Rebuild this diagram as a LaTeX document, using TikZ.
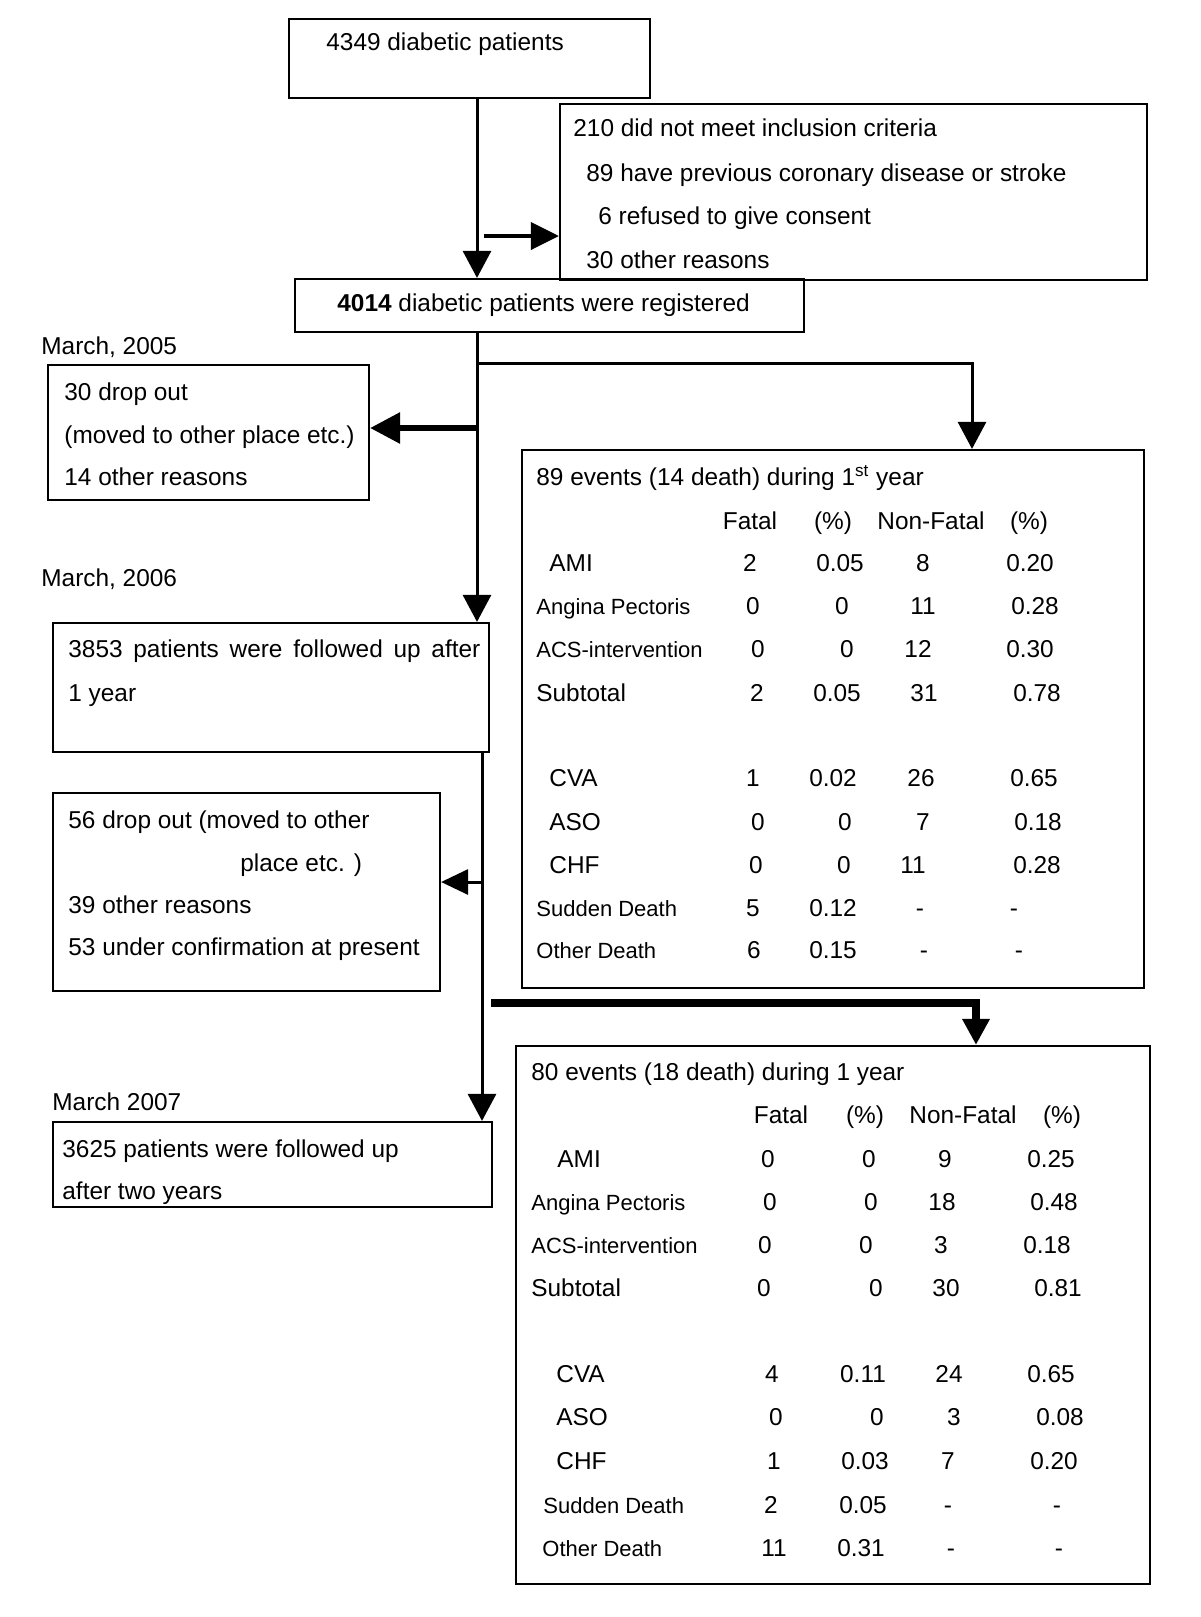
\documentclass[tikz,border=0pt]{standalone}
\usepackage{fontspec}
\setmainfont{Liberation Sans}
\usetikzlibrary{arrows.meta,fit}

\tikzset{
  box/.style={draw, line width=1.1pt, inner sep=0pt},
  txt/.style={anchor=base west, inner sep=0pt},
  lbl/.style={anchor=base west, inner sep=0pt, font=\fontsize{11}{13}\selectfont},
  num/.style={anchor=base, inner sep=0pt},
  flow/.style={line width=1.5pt, -{Triangle[length=13.5pt,width=14pt]}},
  flowside/.style={line width=2pt, -{Triangle[length=14pt,width=13.5pt]}},
  flowbig/.style={line width=3pt, -{Triangle[length=15pt,width=15pt]}},
  flowthin/.style={line width=1.5pt, -{Triangle[length=13.5pt,width=12.5pt]}},
  flowbar/.style={line width=4pt, -{Triangle[length=13pt,width=13pt]}},
}

\begin{document}
\begin{tikzpicture}[x=0.5pt,y=0.5pt,yscale=-1,font=\fontsize{12.2}{14}\selectfont]
\useasboundingbox (0,0) rectangle (1200,1617);

%Shape: Rectangle [start]
\node[box, fit={(289,19) (650,98)}] (start) {};
%Shape: Rectangle [excluded]
\node[box, fit={(560,104) (1147,280)}] (excl) {};
%Shape: Rectangle [registered]
\node[box, fit={(295,279) (804,332)}] (reg) {};
%Shape: Rectangle [drop out 2005]
\node[box, fit={(48,365) (369,500)}] (drop1) {};
%Shape: Rectangle [followed 1 year]
\node[box, fit={(53,623) (489,752)}] (fup1) {};
%Shape: Rectangle [drop out 2006]
\node[box, fit={(53,793) (440,991)}] (drop2) {};
%Shape: Rectangle [followed 2 years]
\node[box, fit={(53,1122) (492,1207)}] (fup2) {};
%Shape: Rectangle [events 1st year]
\node[box, fit={(522,450) (1144,988)}] (ev1) {};
%Shape: Rectangle [events 2nd year]
\node[box, fit={(516,1046) (1150,1584)}] (ev2) {};

% Points where the lines run
\coordinate (spine1) at (477,0);
\coordinate (spine2) at (482,0);
\coordinate (side) at (484,236);
\coordinate (fork1) at (477,363);
\coordinate (fork2) at (477,428);
\coordinate (fork3) at (482,882);
\coordinate (fork4) at (491,1003);
\coordinate (ev1in) at (972,0);
\coordinate (ev2in) at (976,0);

%Straight Lines
\draw[flow] (start.south -| spine1) -- (reg.north -| spine1);
\draw[flowside] (side) -- (side -| excl.west);
\draw[flow] (reg.south -| spine1) -- (fup1.north -| spine1);
\draw[flow] (fork1) -| (ev1.north -| ev1in);
\draw[flowbig] (fork2) -- (fork2 -| drop1.east);
\draw[flow] (fup1.south -| spine2) -- (fup2.north -| spine2);
\draw[flowthin] (fork3) -- (fork3 -| drop2.east);
\draw[flowbar] (fork4) -| (ev2.north -| ev2in);

% Text Node
\node[txt] (t-start) at (326,50) {4349 diabetic patients};
% Text Node
\node[txt] (t-excl1) at (573,136) {210 did not meet inclusion criteria};
\node[txt] (t-excl2) at (586,181) {89 have previous coronary disease or stroke};
\node[txt] (t-excl3) at (598,224) {6 refused to give consent};
\node[txt] (t-excl4) at (586,268) {30 other reasons};
% Text Node
\node[txt] (t-reg) at (337,311) {\textbf{4014} diabetic patients were registered};
% Text Node
\node[txt] (d2005) at (41,354) {March, 2005};
\node[txt] (d2006) at (41,586) {March, 2006};
\node[txt] (d2007) at (52,1110) {March 2007};
% Text Node
\node[txt] (t-drop1a) at (64,400) {30 drop out};
\node[txt] (t-drop1b) at (64,443) {(moved to other place etc.)};
\node[txt] (t-drop1c) at (64,485) {14 other reasons};
% Text Node
\node[txt] (t-fup1a) at (68,657) {\makebox[206pt][s]{3853 patients were followed up after}};
\node[txt] (t-fup1b) at (68,701) {1 year};
% Text Node
\node[txt] (t-drop2a) at (68,828) {56 drop out (moved to other};
\node[txt] (t-drop2b) at (240,871) {place etc. )};
\node[txt] (t-drop2c) at (68,913) {39 other reasons};
\node[txt] (t-drop2d) at (68,955) {53 under confirmation at present};
% Text Node
\node[txt] (t-fup2a) at (62,1157) {3625 patients were followed up};
\node[txt] (t-fup2b) at (62,1199) {after two years};

% Table: events during 1st year
\node[txt] (ev1title) at (536,485) {89 events (14 death) during 1\textsuperscript{st} year};
\path (750,529) node[num] (h1f) {Fatal} (833,529) node[num] (h1fp) {(\%)}
      (931,529) node[num] (h1n) {Non-Fatal} (1029,529) node[num] (h1np) {(\%)};
\path (549,571) node[txt] (ami1) {AMI} (750,571) node[num] (ami1f) {2} (840,571) node[num] (ami1fp) {0.05}
      (923,571) node[num] (ami1n) {8} (1030,571) node[num] (ami1np) {0.20};
\path (536,614) node[lbl] (ang1) {Angina Pectoris} (753,614) node[num] (ang1f) {0} (842,614) node[num] (ang1fp) {0}
      (923,614) node[num] (ang1n) {11} (1035,614) node[num] (ang1np) {0.28};
\path (536,657) node[lbl] (acs1) {ACS-intervention} (758,657) node[num] (acs1f) {0} (847,657) node[num] (acs1fp) {0}
      (918,657) node[num] (acs1n) {12} (1030,657) node[num] (acs1np) {0.30};
\path (536,701) node[txt] (sub1) {Subtotal} (757,701) node[num] (sub1f) {2} (837,701) node[num] (sub1fp) {0.05}
      (924,701) node[num] (sub1n) {31} (1037,701) node[num] (sub1np) {0.78};
\path (549,786) node[txt] (cva1) {CVA} (753,786) node[num] (cva1f) {1} (833,786) node[num] (cva1fp) {0.02}
      (921,786) node[num] (cva1n) {26} (1034,786) node[num] (cva1np) {0.65};
\path (549,830) node[txt] (aso1) {ASO} (758,830) node[num] (aso1f) {0} (845,830) node[num] (aso1fp) {0}
      (923,830) node[num] (aso1n) {7} (1038,830) node[num] (aso1np) {0.18};
\path (549,873) node[txt] (chf1) {CHF} (756,873) node[num] (chf1f) {0} (844,873) node[num] (chf1fp) {0}
      (913,873) node[num] (chf1n) {11} (1037,873) node[num] (chf1np) {0.28};
\path (536,916) node[lbl] (sud1) {Sudden Death} (753,916) node[num] (sud1f) {5} (833,916) node[num] (sud1fp) {0.12}
      (920,916) node[num] (sud1n) {-} (1014,916) node[num] (sud1np) {-};
\path (536,958) node[lbl] (oth1) {Other Death} (754,958) node[num] (oth1f) {6} (833,958) node[num] (oth1fp) {0.15}
      (924,958) node[num] (oth1n) {-} (1019,958) node[num] (oth1np) {-};

% Table: events during the next year
\node[txt] (ev2title) at (531,1080) {80 events (18 death) during 1 year};
\path (781,1123) node[num] (h2f) {Fatal} (865,1123) node[num] (h2fp) {(\%)}
      (963,1123) node[num] (h2n) {Non-Fatal} (1062,1123) node[num] (h2np) {(\%)};
\path (557,1167) node[txt] (ami2) {AMI} (768,1167) node[num] (ami2f) {0} (869,1167) node[num] (ami2fp) {0}
      (945,1167) node[num] (ami2n) {9} (1051,1167) node[num] (ami2np) {0.25};
\path (531,1210) node[lbl] (ang2) {Angina Pectoris} (770,1210) node[num] (ang2f) {0} (871,1210) node[num] (ang2fp) {0}
      (942,1210) node[num] (ang2n) {18} (1054,1210) node[num] (ang2np) {0.48};
\path (531,1253) node[lbl] (acs2) {ACS-intervention} (765,1253) node[num] (acs2f) {0} (866,1253) node[num] (acs2fp) {0}
      (941,1253) node[num] (acs2n) {3} (1047,1253) node[num] (acs2np) {0.18};
\path (531,1296) node[txt] (sub2) {Subtotal} (764,1296) node[num] (sub2f) {0} (876,1296) node[num] (sub2fp) {0}
      (946,1296) node[num] (sub2n) {30} (1058,1296) node[num] (sub2np) {0.81};
\path (556,1382) node[txt] (cva2) {CVA} (772,1382) node[num] (cva2f) {4} (863,1382) node[num] (cva2fp) {0.11}
      (949,1382) node[num] (cva2n) {24} (1051,1382) node[num] (cva2np) {0.65};
\path (556,1425) node[txt] (aso2) {ASO} (776,1425) node[num] (aso2f) {0} (877,1425) node[num] (aso2fp) {0}
      (954,1425) node[num] (aso2n) {3} (1060,1425) node[num] (aso2np) {0.08};
\path (556,1469) node[txt] (chf2) {CHF} (774,1469) node[num] (chf2f) {1} (865,1469) node[num] (chf2fp) {0.03}
      (948,1469) node[num] (chf2n) {7} (1054,1469) node[num] (chf2np) {0.20};
\path (543,1513) node[lbl] (sud2) {Sudden Death} (771,1513) node[num] (sud2f) {2} (863,1513) node[num] (sud2fp) {0.05}
      (948,1513) node[num] (sud2n) {-} (1057,1513) node[num] (sud2np) {-};
\path (542,1556) node[lbl] (oth2) {Other Death} (774,1556) node[num] (oth2f) {11} (861,1556) node[num] (oth2fp) {0.31}
      (951,1556) node[num] (oth2n) {-} (1059,1556) node[num] (oth2np) {-};

\end{tikzpicture}
\end{document}
